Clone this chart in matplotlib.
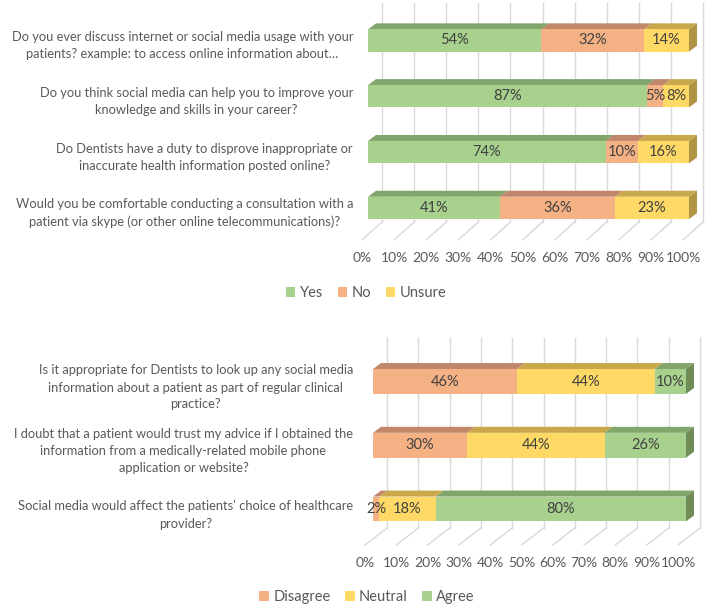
import matplotlib
matplotlib.use('Agg')
import matplotlib.pyplot as plt
from matplotlib.patches import Polygon, Patch

plt.rcParams['font.family'] = ['Lato', 'DejaVu Sans']

W, H, DPI = 707, 605, 100

# ---------------- data ----------------
questions_1 = [
    "Do you ever discuss internet or social media usage with your\npatients? example: to access online information about…",
    "Do you think social media can help you to improve your\nknowledge and skills in your career?",
    "Do Dentists have a duty to disprove inappropriate or\ninaccurate health information posted online?",
    "Would you be comfortable conducting a consultation with a\npatient via skype (or other online telecommunications)?",
]
yes = [54, 87, 74, 41]
no = [32, 5, 10, 36]
unsure = [14, 8, 16, 23]
series_names_1 = ["Yes", "No", "Unsure"]

questions_2 = [
    "Is it appropriate for Dentists to look up any social media\ninformation about a patient as part of regular clinical\npractice?",
    "I doubt that a patient would trust my advice if I obtained the\ninformation from a medically-related mobile phone\napplication or website?",
    "Social media would affect the patients' choice of healthcare\nprovider?",
]
disagree = [46, 30, 2]
neutral = [44, 44, 18]
agree = [10, 26, 80]
series_names_2 = ["Disagree", "Neutral", "Agree"]

ticks = [0, 10, 20, 30, 40, 50, 60, 70, 80, 90, 100]
tick_labels = [f"{t}%" for t in ticks]

# ---------------- style ----------------
GREEN = ('#A9D18E', '#82A56B', '#6F8D59')
ORANGE = ('#F4B183', '#C2876A', '#A9745B')
YELLOW = ('#FFD966', '#C9A84B', '#B09443')
GRID = '#D9D9D9'
TXT = '#595959'
VAL = '#404040'

fig = plt.figure(figsize=(W / DPI, H / DPI), dpi=DPI)


def draw_panel(cats, series, names, cols, g):
    x0, x1 = g['x0'], g['x1']
    y0, sp = g['bar_y0'], g['spacing']
    top_idx = (g['grid_top'] - y0) / sp
    front_idx = (g['floor_front'] - y0) / sp
    back_idx = (g['floor_back'] - y0) / sp
    tick_idx = (g['tick_y'] - y0) / sp
    ax = fig.add_axes([x0 / W, 1 - g['floor_front'] / H,
                       (x1 - x0) / W, (g['floor_front'] - g['grid_top']) / H])
    ax.set_xlim(0, 100)
    ax.set_ylim(front_idx, top_idx)
    ax.axis('off')
    pxu = (x1 - x0) / 100.0
    bdx = g['back_dx'] / pxu
    fdx = g['front_dx'] / pxu
    ddx = g['depth_dx'] / pxu
    ddy = g['depth_dy'] / sp
    h = g['height']

    # back wall gridlines and floor lines
    for t in ticks:
        ax.plot([t + bdx, t + bdx], [top_idx, back_idx], color=GRID, lw=1.0,
                clip_on=False, zorder=0)
        ax.plot([t + bdx, t + fdx], [back_idx, front_idx], color=GRID, lw=1.0,
                clip_on=False, zorder=0)
    for t, lab in zip(ticks, tick_labels):
        ax.text(t + fdx, tick_idx, lab, ha='center', va='center', fontsize=10,
                color=TXT, clip_on=False)

    n = len(cats)
    for i in range(n):
        left = 0
        for s, (vals, c) in enumerate(zip(series, cols)):
            v = vals[i]
            ax.barh(i, v, left=left, height=h, color=c[0], zorder=3)
            topy = i - h / 2
            ax.add_patch(Polygon([(left, topy), (left + v, topy),
                                  (left + v + ddx, topy - ddy), (left + ddx, topy - ddy)],
                                 closed=True, facecolor=c[1], edgecolor='none',
                                 zorder=2, clip_on=False))
            ax.text(left + v / 2, i, f"{v}%", ha='center', va='center',
                    fontsize=10.5, color=VAL, zorder=5)
            left += v
        c = cols[-1]
        ax.add_patch(Polygon([(left, i - h / 2), (left + ddx, i - h / 2 - ddy),
                              (left + ddx, i + h / 2 - ddy), (left, i + h / 2)],
                             closed=True, facecolor=c[2], edgecolor='none',
                             zorder=2, clip_on=False))
        lx = (g['label_right'] - x0) / pxu
        ax.text(lx, i + g['label_dy'] / sp, cats[i], ha='right', va='center',
                multialignment='center', fontsize=9.3, color=TXT,
                linespacing=1.5, clip_on=False)

    handles = [Patch(facecolor=c[0], edgecolor='none', label=nm) for nm, c in zip(names, cols)]
    fig.legend(handles=handles, loc='center',
               bbox_to_anchor=(g['legend_x'] / W, 1 - g['legend_y'] / H),
               ncol=len(names), frameon=False, fontsize=10.5,
               handlelength=0.65, handleheight=0.65, handletextpad=0.3,
               columnspacing=1.0, labelcolor=TXT)
    return ax


geom1 = dict(x0=368, x1=689, bar_y0=40.5, spacing=55.8, height=0.40,
             grid_top=3, floor_back=222, floor_front=240, back_dx=14, front_dx=-6,
             depth_dx=8, depth_dy=6, tick_y=258, legend_x=366, legend_y=293,
             label_right=353, label_dy=5)
geom2 = dict(x0=373, x1=686, bar_y0=381.5, spacing=63.75, height=0.39,
             grid_top=338, floor_back=528, floor_front=545, back_dx=14, front_dx=-8,
             depth_dx=8, depth_dy=6, tick_y=563, legend_x=367, legend_y=597,
             label_right=353, label_dy=6)

draw_panel(questions_1, [yes, no, unsure], series_names_1, [GREEN, ORANGE, YELLOW], geom1)
draw_panel(questions_2, [disagree, neutral, agree], series_names_2, [ORANGE, YELLOW, GREEN], geom2)

fig.savefig('out.png', dpi=DPI, facecolor='white')
